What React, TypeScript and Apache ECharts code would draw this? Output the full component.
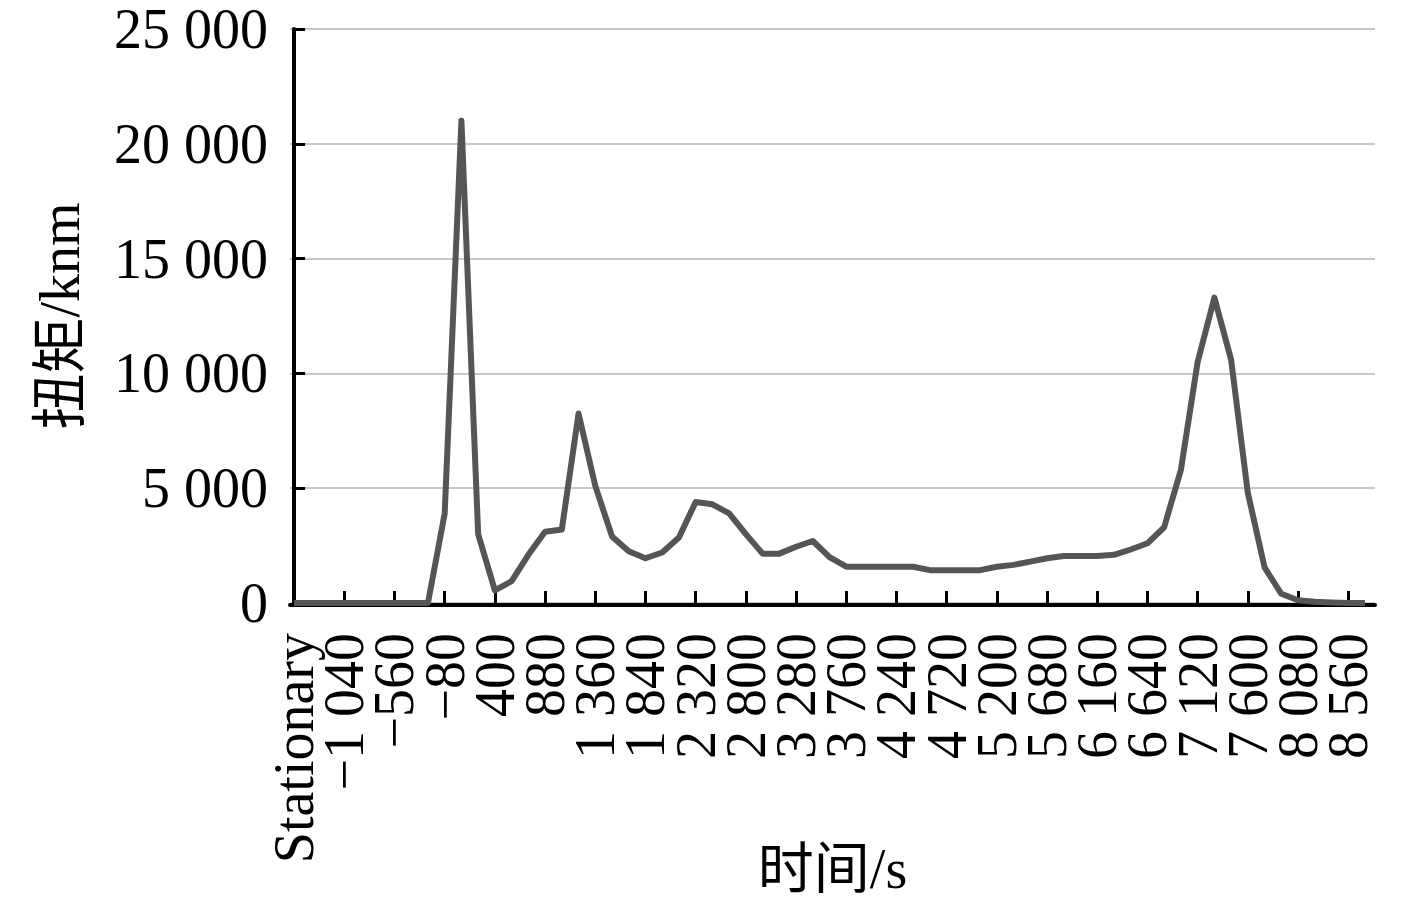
import React, { useEffect, useRef } from "react";
import * as echarts from "echarts";

// Category labels (time in s), one every 160 s
const categories: string[] = [
  "Stationary", "−1 360", "−1 200", "−1 040", "−880", "−720", "−560", "−400", "−240", "−80",
  "80", "240", "400", "560", "720", "880", "1 040", "1 200", "1 360", "1 520",
  "1 680", "1 840", "2 000", "2 160", "2 320", "2 480", "2 640", "2 800", "2 960", "3 120",
  "3 280", "3 440", "3 600", "3 760", "3 920", "4 080", "4 240", "4 400", "4 560", "4 720",
  "4 880", "5 040", "5 200", "5 360", "5 520", "5 680", "5 840", "6 000", "6 160", "6 320",
  "6 480", "6 640", "6 800", "6 960", "7 120", "7 280", "7 440", "7 600", "7 760", "7 920",
  "8 080", "8 240", "8 400", "8 560", "8 720",
];

// Torque (knm)
const torque: number[] = [
  0, 0, 0, 0, 0, 0, 0, 0, 0, 3900,
  21000, 3000, 550, 950, 2100, 3100, 3200, 8250, 5100, 2900,
  2250, 1950, 2200, 2850, 4400, 4300, 3900, 3000, 2150, 2150,
  2450, 2700, 2000, 1580, 1580, 1580, 1580, 1580, 1430, 1430,
  1430, 1430, 1580, 1660, 1800, 1950, 2050, 2050, 2050, 2100,
  2330, 2600, 3300, 5800, 10500, 13300, 10600, 4800, 1550, 400,
  120, 50, 20, 0, 0,
];

const yTicks = { min: 0, max: 25000, interval: 5000 };
const LABEL_STEP = 3;

const SERIF = "'Liberation Serif', 'Times New Roman', serif";
const MIXED = "'Liberation Serif', 'Times New Roman', 'Noto Sans CJK SC', serif";

const fmtThousands = (v: number): string => {
  if (v >= 1000) {
    const k = Math.floor(v / 1000);
    const r = String(v % 1000).padStart(3, "0");
    return `${k} ${r}`;
  }
  return String(v);
};

export default function App() {
  const ref = useRef<HTMLDivElement>(null);

  useEffect(() => {
    document.body.style.margin = "0";
    if (!ref.current) return;
    const chart = echarts.init(ref.current, undefined, { renderer: "svg" });

    const labelIdx = categories.map((_, i) => i).filter((i) => i % LABEL_STEP === 0);
    const tickIdx = labelIdx.filter((i) => i > 0);
    // split labels over two coincident axes so that no neighbour is dropped
    const labelsA = labelIdx.filter((_, k) => k % 2 === 0);
    const labelsB = labelIdx.filter((_, k) => k % 2 === 1);
    const data = torque.map((v, i) => [i, v]);

    const X_MIN = -0.245;
    const X_MAX = 64.6;

    const labelStyle = {
      formatter: (v: number) => categories[Math.round(v)] ?? "",
      showMinLabel: true,
      showMaxLabel: true,
      hideOverlap: false,
      rotate: 90,
      margin: 28,
      fontSize: 56,
      lineHeight: 40,
      color: "#000",
      fontFamily: SERIF,
    };

    const option: any = {
      animation: false,
      backgroundColor: "#ffffff",
      grid: {
        left: 290,
        right: 42,
        top: 29,
        bottom: 306,
        containLabel: false,
        outerBoundsMode: "none",
      },
      xAxis: [
        {
          type: "value",
          position: "bottom",
          min: X_MIN,
          max: X_MAX,
          offset: 2,
          axisLine: { show: true, onZero: false, lineStyle: { color: "#000", width: 4 } },
          axisTick: {
            show: true,
            inside: true,
            length: 14,
            customValues: tickIdx,
            lineStyle: { color: "#000", width: 3 },
          },
          axisLabel: { ...labelStyle, customValues: labelsA },
          splitLine: { show: false },
          name: "时间/s",
          nameLocation: "middle",
          nameGap: 236,
          nameMoveOverlap: false,
          nameTextStyle: { fontSize: 56, color: "#000", fontFamily: MIXED },
        },
        {
          type: "value",
          position: "bottom",
          min: X_MIN,
          max: X_MAX,
          offset: 2,
          axisLine: { show: false, onZero: false },
          axisTick: { show: false },
          axisLabel: { ...labelStyle, customValues: labelsB },
          splitLine: { show: false },
        },
      ],
      yAxis: {
        type: "value",
        min: yTicks.min,
        max: yTicks.max,
        interval: yTicks.interval,
        axisLine: { show: true, lineStyle: { color: "#000", width: 4 } },
        axisTick: { show: true, inside: true, length: 11, lineStyle: { color: "#000", width: 3 } },
        axisLabel: {
          formatter: (v: number) => fmtThousands(v),
          margin: 22,
          fontSize: 56,
          lineHeight: 40,
          color: "#000",
          fontFamily: SERIF,
        },
        splitLine: { show: true, lineStyle: { color: "#c8c8c8", width: 2 } },
        name: "扭矩/knm",
        nameLocation: "middle",
        nameRotate: 90,
        nameGap: 202,
        nameMoveOverlap: false,
        nameTextStyle: { fontSize: 56, color: "#000", fontFamily: MIXED },
      },
      series: [
        {
          type: "line",
          xAxisIndex: 0,
          data,
          symbol: "none",
          showSymbol: false,
          z: 3,
          lineStyle: { color: "#555555", width: 6, join: "round" },
        },
      ],
    };

    chart.setOption(option);
    return () => chart.dispose();
  }, []);

  return <div ref={ref} style={{ width: 1417, height: 909 }} />;
}
